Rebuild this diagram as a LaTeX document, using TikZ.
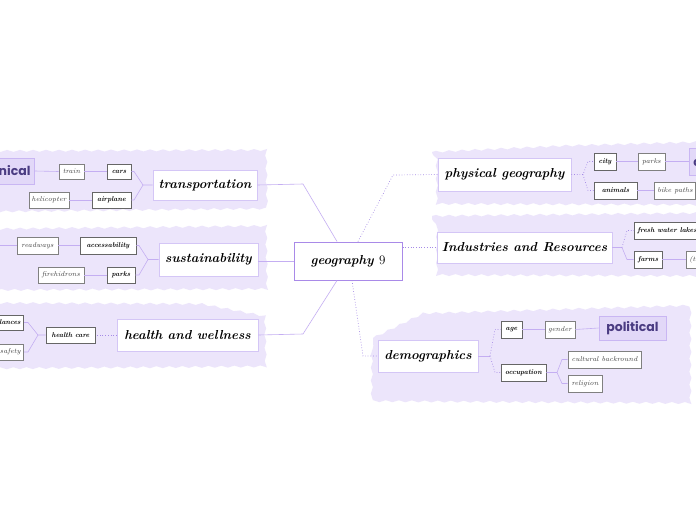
\documentclass[tikz,border=0pt]{standalone}
\usepackage{fontspec}
\newfontfamily\heavy{Poppins}
\usetikzlibrary{decorations.pathmorphing}
\definecolor{blobc}{HTML}{ECE5FB}
\definecolor{bigb}{HTML}{D4C6F6}
\definecolor{ctrb}{HTML}{A98AE8}
\definecolor{lnc}{HTML}{C4AEF2}
\definecolor{dotc}{HTML}{A58AE6}
\definecolor{polf}{HTML}{E2D8F8}
\definecolor{polb}{HTML}{C9B6F3}
\definecolor{polt}{HTML}{4A3B82}
\tikzset{
  blob/.style={fill=blobc, decorate, decoration={snake, amplitude=1pt, segment length=13pt}},
  big/.style={draw=bigb, fill=white, line width=0.8pt, inner sep=0pt, font=\fontsize{13}{15}\selectfont\bfseries\itshape},
  ctr/.style={draw=ctrb, fill=white, line width=1pt, inner sep=0pt, font=\fontsize{13}{15}\selectfont\bfseries\itshape},
  sb/.style={draw=black!60, fill=white, line width=0.7pt, inner sep=0pt, font=\fontsize{7}{8}\selectfont\bfseries\itshape},
  sn/.style={draw=black!50, fill=white, line width=0.6pt, inner sep=0pt, text=black!75, font=\fontsize{7}{8}\selectfont\itshape},
  pol/.style={draw=polb, fill=polf, line width=0.8pt, inner sep=0pt, text=polt, font=\heavy\bfseries\fontsize{12.5}{14}\selectfont},
  sol/.style={draw=lnc, line width=0.6pt},
  dot/.style={draw=dotc, line width=0.7pt, dotted}
}
\begin{document}
\begin{tikzpicture}[x=1pt,y=-1pt]
\clip (0,0) rectangle (696,520);
\fill[white] (0,0) rectangle (696,520);
% background blobs
\fill[blob] (-10,151) -- (262,150) -- (263,213) -- (-10,216) -- cycle;
\fill[blob] (-10,229) -- (262,226) -- (263,291) -- (-10,292) -- cycle;
\fill[blob] (-10,303) -- (200,304) -- (262,316) -- (263,370) -- (-10,372) -- cycle;
\fill[blob] (432,152) -- (560,146) -- (706,142) -- (706,206) -- (432,205) -- cycle;
\fill[blob] (432,216) -- (706,213) -- (706,277) -- (432,276) -- cycle;
\fill[blob] (373,338) -- (420,315) -- (690,307) -- (690,404) -- (373,402) -- cycle;
% main nodes
\node[ctr, minimum width=108pt, minimum height=38pt] (g) at (348,261) {geography \upshape\mdseries 9};
\node[big, minimum width=104pt, minimum height=30pt] (tr) at (205,185) {transportation};
\node[big, minimum width=99pt, minimum height=33pt] (su) at (208.5,259.5) {sustainability};
\node[big, minimum width=141pt, minimum height=32pt] (he) at (187.5,335) {health and wellness};
\node[big, minimum width=133pt, minimum height=33pt] (ph) at (504.5,174.5) {physical geography};
\node[big, minimum width=175pt, minimum height=31pt] (in) at (524.5,247.5) {Industries and Resources};
\node[big, minimum width=100pt, minimum height=32pt] (de) at (428,356) {demographics};
% transportation branch
\node[sb, minimum width=24pt, minimum height=15pt] (cars) at (119,171.5) {cars};
\node[sb, minimum width=39pt, minimum height=16pt] (air) at (111.5,200) {airplane};
\node[sn, minimum width=25pt, minimum height=15pt] (train) at (71.5,171.5) {train};
\node[sn, minimum width=40pt, minimum height=16pt] (heli) at (49,200) {helicopter};
\node[pol, anchor=east, minimum height=26pt, inner xsep=4pt] (tech) at (35,171) {technical};
% sustainability branch
\node[sb, minimum width=56pt, minimum height=17pt] (acc) at (108,245.5) {accessability};
\node[sb, minimum width=28pt, minimum height=16pt] (parksL) at (121,275) {parks};
\node[sn, minimum width=41pt, minimum height=17pt] (read) at (37.5,245.5) {readways};
\node[sn, minimum width=46pt, minimum height=16pt] (fire) at (61,275) {firehidrons};
% health branch
\node[sb, minimum width=49pt, minimum height=16pt] (hc) at (70.5,335) {health care};
\node[sb, anchor=east, minimum height=15pt, inner xsep=3pt] (amb) at (24,322.5) {ambulances};
\node[sn, anchor=east, minimum height=16pt, inner xsep=3pt] (safe) at (24,352) {road safety};
% physical branch
\node[sb, minimum width=22pt, minimum height=17pt] (city) at (605,161.5) {city};
\node[sb, minimum width=43pt, minimum height=17pt] (ani) at (615.5,190.5) {animals};
\node[sn, minimum width=27pt, minimum height=17pt] (parksR) at (651.5,161.5) {parks};
\node[sn, anchor=west, minimum height=17pt, inner xsep=3pt] (bike) at (654,190.5) {bike paths};
\node[pol, anchor=west, minimum height=27pt, inner xsep=4pt] (cult) at (689,161.5) {cultural};
% industries branch
\node[sb, anchor=west, minimum height=17pt, inner xsep=3pt] (fresh) at (634,230.5) {fresh water lakes};
\node[sb, minimum width=28pt, minimum height=17pt] (farms) at (648,259.5) {farms};
\node[sn, anchor=west, minimum height=17pt, inner xsep=3pt] (trees) at (686,259.5) {(trees)};
% demographics branch
\node[sb, minimum width=21pt, minimum height=17pt] (age) at (511.5,329.5) {age};
\node[sn, minimum width=30pt, minimum height=17pt] (gen) at (560,329.5) {gender};
\node[pol, minimum width=67pt, minimum height=24pt] (pol) at (632.5,328) {political};
\node[sb, minimum width=45pt, minimum height=17pt] (occ) at (523.5,372.5) {occupation};
\node[sn, minimum width=73pt, minimum height=17pt] (cb) at (604.5,359.5) {cultural backround};
\node[sn, minimum width=34pt, minimum height=17pt] (rel) at (585,383.5) {religion};
% bend coordinates
\coordinate (b1) at (303,184);
\coordinate (b3) at (303,334);
\coordinate (b4) at (393,175);
\coordinate (b6) at (363,356);
\coordinate (tf) at (143,185); \coordinate (tf1) at (134,171.5); \coordinate (tf2) at (134,200);
\coordinate (sf) at (148,259.5); \coordinate (sf1) at (139,245.5); \coordinate (sf2) at (139,275);
\coordinate (rl) at (-5,245.5);
\coordinate (hf) at (38,335); \coordinate (hf1) at (28,322.5); \coordinate (hf2) at (28,352);
\coordinate (pf) at (583,174.5); \coordinate (pf1) at (588,161.5); \coordinate (pf2) at (588,190.5);
\coordinate (if) at (622,247.5); \coordinate (if1) at (627,230.5); \coordinate (if2) at (627,259.5);
\coordinate (df) at (490,356); \coordinate (df1) at (495,329.5); \coordinate (df2) at (495,372.5);
\coordinate (of) at (557,372.5); \coordinate (of1) at (562,359.5); \coordinate (of2) at (562,383.5);
% main connectors
\draw[sol] ([xshift=-11pt]g.north) -- (b1) -- (tr.east);
\draw[sol] (g.west) -- (g.west -| su.east);
\draw[sol] ([xshift=-11pt]g.south) -- (b3) -- (he.east);
\draw[dot] ([xshift=10pt]g.north) -- (b4) -- (ph.west);
\draw[dot] (g.east |- in.west) -- (in.west);
\draw[dot] ([xshift=4pt]g.south) -- (b6) -- (de.west);
% transportation
\draw[sol] (tr.west) -- (tf) -- (tf1) -- (cars.east);
\draw[sol] (tf) -- (tf2) -- (air.east);
\draw[sol] (cars.west) -- (train.east);
\draw[sol] (train.west) -- (tech.east);
\draw[sol] (air.west) -- (heli.east);
% sustainability
\draw[sol] (su.west) -- (sf) -- (sf1) -- (acc.east);
\draw[sol] (sf) -- (sf2) -- (parksL.east);
\draw[sol] (acc.west) -- (read.east);
\draw[sol] (read.west) -- (rl);
\draw[sol] (parksL.west) -- (fire.east);
% health
\draw[dot] (he.west) -- (hc.east);
\draw[sol] (hc.west) -- (hf) -- (hf1) -- (amb.east);
\draw[sol] (hf) -- (hf2) -- (safe.east);
% physical
\draw[dot] (ph.east) -- (pf) -- (pf1) -- (city.west);
\draw[dot] (pf) -- (pf2) -- (ani.west);
\draw[sol] (city.east) -- (parksR.west);
\draw[sol] (parksR.east) -- (cult.west);
\draw[sol] (ani.east) -- (bike.west);
% industries
\draw[sol] (in.east) -- (if);
\draw[dot] (if) -- (if1) -- (fresh.west);
\draw[sol] (if) -- (if2) -- (farms.west);
\draw[sol] (farms.east) -- (trees.west);
% demographics
\draw[sol] (de.east) -- (df);
\draw[dot] (df) -- (df1) -- (age.west);
\draw[dot] (df) -- (df2) -- (occ.west);
\draw[sol] (age.east) -- (gen.west);
\draw[sol] (gen.east) -- (pol.west);
\draw[sol] (occ.east) -- (of) -- (of1) -- (cb.west);
\draw[sol] (of) -- (of2) -- (rel.west);
\end{tikzpicture}
\end{document}
